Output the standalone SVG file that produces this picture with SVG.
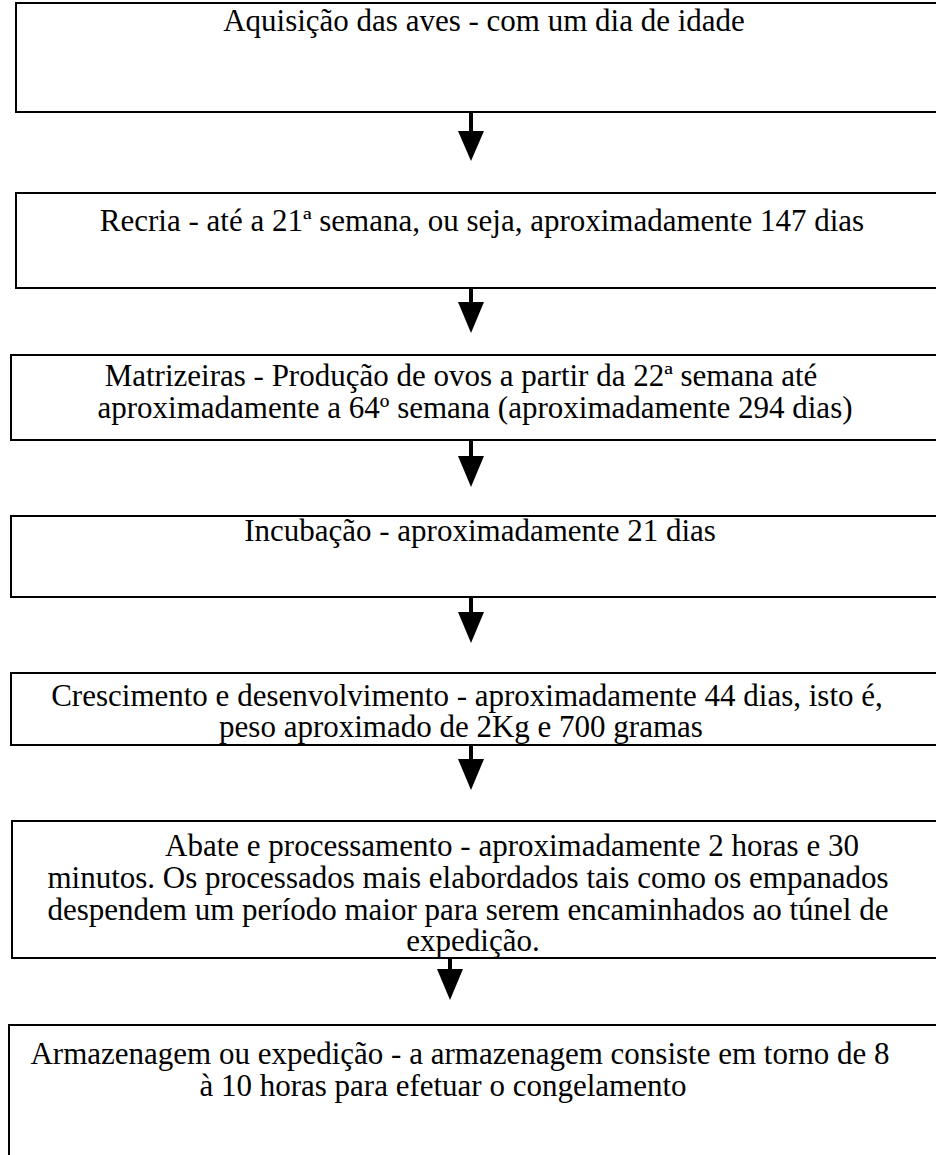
<svg xmlns="http://www.w3.org/2000/svg" width="936" height="1155" viewBox="0 0 936 1155">
<style>
.box{fill:#fff;stroke:#000;stroke-width:2}
.t{font-family:'Liberation Serif','Times New Roman','DejaVu Serif',serif;font-size:31px;fill:#000;text-anchor:middle}
.shaft{stroke:#000;stroke-width:4}
.head{fill:#000}
</style>
<rect width="936" height="1155" fill="#fff"/>
<g id="n1"><rect class="box" x="16" y="3" width="930" height="109"/><text class="t" font-family="Liberation Serif, serif" x="484" y="31">Aquisição das aves - com um dia de idade</text></g>
<g id="n2"><rect class="box" x="16" y="193" width="930" height="95"/><text class="t" font-family="Liberation Serif, serif" x="482" y="231">Recria - até a 21ª semana, ou seja, aproximadamente 147 dias</text></g>
<g id="n3"><rect class="box" x="11" y="355" width="935" height="85"/><text class="t" font-family="Liberation Serif, serif" x="461" y="386">Matrizeiras - Produção de ovos a partir da 22ª semana até</text><text class="t" font-family="Liberation Serif, serif" x="475" y="418">aproximadamente a 64º semana (aproximadamente 294 dias)</text></g>
<g id="n4"><rect class="box" x="11" y="516" width="935" height="81"/><text class="t" font-family="Liberation Serif, serif" x="480" y="541">Incubação - aproximadamente 21 dias</text></g>
<g id="n5"><rect class="box" x="11" y="673" width="935" height="72"/><text class="t" font-family="Liberation Serif, serif" x="467" y="706">Crescimento e desenvolvimento - aproximadamente 44 dias, isto é,</text><text class="t" font-family="Liberation Serif, serif" x="461" y="737">peso aproximado de 2Kg e 700 gramas</text></g>
<g id="n6"><rect class="box" x="12" y="821" width="934" height="137"/><text class="t" font-family="Liberation Serif, serif" x="512" y="856">Abate e processamento - aproximadamente 2 horas e 30</text><text class="t" font-family="Liberation Serif, serif" x="468" y="888">minutos. Os processados mais elabordados tais como os empanados</text><text class="t" font-family="Liberation Serif, serif" x="468" y="920">despendem um período maior para serem encaminhados ao túnel de</text><text class="t" font-family="Liberation Serif, serif" x="473" y="951">expedição.</text></g>
<g id="n7"><rect class="box" x="9" y="1025" width="937" height="140"/><text class="t" font-family="Liberation Serif, serif" x="460" y="1064">Armazenagem ou expedição - a armazenagem consiste em torno de 8</text><text class="t" font-family="Liberation Serif, serif" x="443" y="1096">à 10 horas para efetuar o congelamento</text></g>
<g id="connectors">
<line class="shaft" x1="471" y1="112" x2="471" y2="132"/><polygon class="head" points="458,131 484,131 471,161"/>
<line class="shaft" x1="471" y1="288" x2="471" y2="303"/><polygon class="head" points="458,302 484,302 471,333"/>
<line class="shaft" x1="471" y1="440" x2="471" y2="457"/><polygon class="head" points="458,456 484,456 471,487"/>
<line class="shaft" x1="471" y1="597" x2="471" y2="613"/><polygon class="head" points="458,612 484,612 471,643"/>
<line class="shaft" x1="471" y1="745" x2="471" y2="760"/><polygon class="head" points="458,759 484,759 471,790"/>
<line class="shaft" x1="450" y1="958" x2="450" y2="970"/><polygon class="head" points="437,969 463,969 450,1000"/>
</g>
</svg>
